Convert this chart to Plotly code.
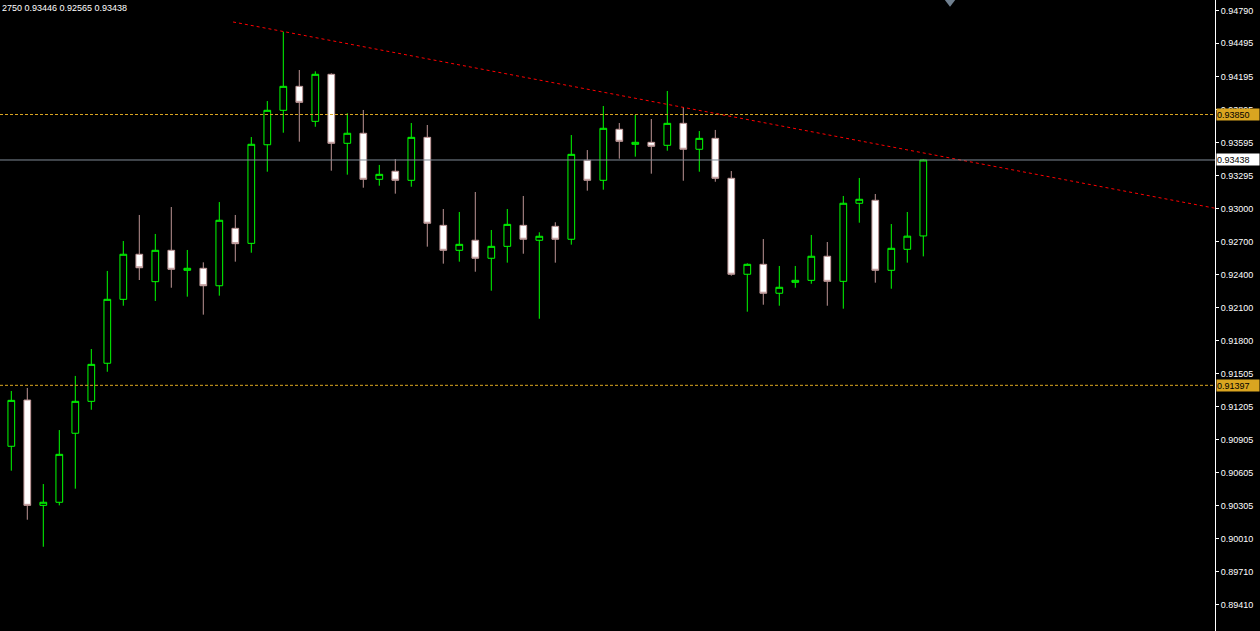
import plotly.graph_objects as go

# ---------------- data ----------------
bar_index = list(range(-1, 58))

opens = [0.90186, 0.90845, 0.91264, 0.90310, 0.90338, 0.90963, 0.91252, 0.91597, 0.92176, 0.92584,
         0.92336, 0.92620, 0.92439, 0.92457, 0.92299, 0.92819, 0.92683, 0.93576, 0.93888, 0.94105,
         0.93788, 0.94214, 0.93589, 0.93680, 0.93263, 0.93336, 0.93254, 0.93643, 0.92846, 0.92620,
         0.92711, 0.92548, 0.92656, 0.92846, 0.92711, 0.92837, 0.92720, 0.93435, 0.93254, 0.93716,
         0.93580, 0.93598, 0.93571, 0.93770, 0.93535, 0.93634, 0.93272, 0.92403, 0.92493, 0.92231,
         0.92330, 0.92348, 0.92566, 0.92339, 0.93046, 0.93073, 0.92439, 0.92629, 0.92750]

highs = [0.90902, 0.91346, 0.91373, 0.90503, 0.90992, 0.91482, 0.91726, 0.92433, 0.92704, 0.92940,
         0.92768, 0.93012, 0.92623, 0.92511, 0.93057, 0.92940, 0.93646, 0.93972, 0.94600, 0.94253,
         0.94241, 0.94223, 0.93861, 0.93891, 0.93393, 0.93447, 0.93773, 0.93755, 0.92994, 0.92967,
         0.93148, 0.92804, 0.92994, 0.93112, 0.92783, 0.92874, 0.93664, 0.93528, 0.93927, 0.93773,
         0.93845, 0.93809, 0.94063, 0.93918, 0.93700, 0.93710, 0.93338, 0.92502, 0.92722, 0.92478,
         0.92478, 0.92759, 0.92695, 0.93112, 0.93275, 0.93130, 0.92858, 0.92967, 0.93446]

lows = [0.90159, 0.90624, 0.90180, 0.89935, 0.90310, 0.90461, 0.91176, 0.91520, 0.92118, 0.92351,
        0.92161, 0.92281, 0.92200, 0.92037, 0.92209, 0.92517, 0.92598, 0.93332, 0.93685, 0.93604,
        0.93739, 0.93341, 0.93305, 0.93187, 0.93205, 0.93133, 0.93196, 0.92653, 0.92499, 0.92517,
        0.92426, 0.92254, 0.92508, 0.92589, 0.92000, 0.92508, 0.92671, 0.93160, 0.93169, 0.93450,
        0.93468, 0.93314, 0.93522, 0.93250, 0.93332, 0.93241, 0.92390, 0.92064, 0.92127, 0.92118,
        0.92281, 0.92317, 0.92118, 0.92091, 0.92870, 0.92327, 0.92272, 0.92508, 0.92565]

closes = [0.90848, 0.91261, 0.90310, 0.90338, 0.90772, 0.91252, 0.91587, 0.92176, 0.92584, 0.92462,
          0.92620, 0.92448, 0.92457, 0.92299, 0.92892, 0.92680, 0.93580, 0.93888, 0.94105, 0.93960,
          0.94214, 0.93589, 0.93680, 0.93263, 0.93308, 0.93254, 0.93643, 0.92865, 0.92620, 0.92674,
          0.92548, 0.92656, 0.92855, 0.92720, 0.92747, 0.92720, 0.93489, 0.93254, 0.93725, 0.93607,
          0.93598, 0.93562, 0.93770, 0.93535, 0.93634, 0.93272, 0.92403, 0.92493, 0.92231, 0.92285,
          0.92348, 0.92566, 0.92339, 0.93046, 0.93082, 0.92439, 0.92638, 0.92748, 0.93438]

tick_values = [0.94790, 0.94495, 0.94195, 0.93895, 0.93595, 0.93295, 0.93000, 0.92700, 0.92400,
               0.92100, 0.91800, 0.91505, 0.91205, 0.90905, 0.90605, 0.90305, 0.90010, 0.89710, 0.89410]
tick_labels = ["0.94790", "0.94495", "0.94195", "0.93895", "0.93595", "0.93295", "0.93000", "0.92700",
               "0.92400", "0.92100", "0.91800", "0.91505", "0.91205", "0.90905", "0.90605", "0.90305",
               "0.90010", "0.89710", "0.89410"]

level_upper = 0.93850
level_lower = 0.91397
bid_level = 0.93438

trend_x = [13.86, 75.23]
trend_y = [0.94688, 0.93001]

shift_marker_x = 58.67
shift_marker_y = 0.94867

header_text = "2750 0.93446 0.92565 0.93438"

x_range = [-0.706, 75.23]
y_range = [0.89172, 0.94887]

# ---------------- figure ----------------
GOLD = "#DAA520"
BULL = "#00FF00"
BEAR_LINE = "#BC9494"
FONT = "Liberation Sans"

fig = go.Figure()

fig.add_trace(go.Candlestick(
    x=bar_index, open=opens, high=highs, low=lows, close=closes,
    increasing=dict(line=dict(color=BULL, width=1), fillcolor="#000000"),
    decreasing=dict(line=dict(color=BEAR_LINE, width=1), fillcolor="#FFFFFF"),
    whiskerwidth=0, showlegend=False, hoverinfo="skip",
))

# horizontal levels
for lvl, col, dash in [(level_upper, GOLD, "3px,2px"), (level_lower, GOLD, "3px,2px"),
                       (bid_level, "#7F8A96", "solid")]:
    fig.add_shape(type="line", xref="paper", x0=0, x1=1, yref="y", y0=lvl, y1=lvl,
                  line=dict(color=col, width=1, dash=dash), layer="above")

# trend line
fig.add_trace(go.Scatter(
    x=trend_x, y=trend_y, mode="lines",
    line=dict(color="#FF0000", width=1, dash="3px,3px"),
    showlegend=False, hoverinfo="skip", cliponaxis=True,
))

# chart shift marker
fig.add_trace(go.Scatter(
    x=[shift_marker_x], y=[shift_marker_y], mode="markers",
    marker=dict(symbol="triangle-down", size=9, color="#708090"),
    showlegend=False, hoverinfo="skip", cliponaxis=False,
))

# price labels on the axis
for lvl, bg in [(level_upper, GOLD), (level_lower, GOLD), (bid_level, "#FFFFFF")]:
    fig.add_annotation(
        xref="paper", x=1, xanchor="left", xshift=1,
        yref="y", y=lvl, yanchor="middle",
        text=f"{lvl:.5f}", showarrow=False, align="left",
        bgcolor=bg, borderpad=0, width=42, height=11,
        font=dict(family=FONT, size=9, color="#000000"),
    )

fig.add_annotation(
    xref="paper", yref="paper", x=0, y=1, xanchor="left", yanchor="top",
    text=header_text, showarrow=False, yshift=-1,
    font=dict(family=FONT, size=9, color="#FFFFFF"),
)

fig.update_layout(
    width=1260, height=631,
    margin=dict(l=0, r=45, t=0, b=0),
    paper_bgcolor="#000000", plot_bgcolor="#000000",
    boxgap=0.4,
    hovermode=False,
    xaxis=dict(range=x_range, showgrid=False, zeroline=False, showticklabels=False,
               rangeslider=dict(visible=False), showline=False, fixedrange=True),
    yaxis=dict(range=y_range, side="right", showgrid=False, zeroline=False,
               tickvals=tick_values, ticktext=tick_labels,
               ticks="outside", ticklen=3, tickcolor="#FFFFFF", tickwidth=1,
               showline=True, linecolor="#FFFFFF", linewidth=1, fixedrange=True,
               tickfont=dict(family=FONT, size=9, color="#FFFFFF")),
    font=dict(family=FONT),
)

fig.write_html(
    "out.html",
    config={"displayModeBar": False, "staticPlot": True},
    post_script="document.body.style.margin='0';document.body.style.background='#000';"
                "document.body.style.overflow='hidden';",
)
